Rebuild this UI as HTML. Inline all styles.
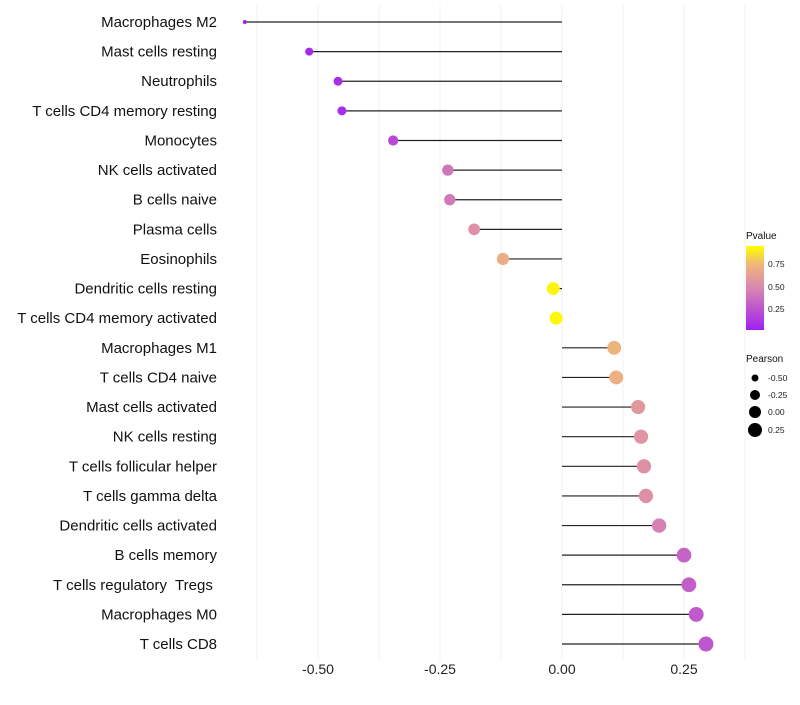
<!DOCTYPE html>
<html><head><meta charset="utf-8"><style>
body{margin:0;background:#fff;font-family:"Liberation Sans",sans-serif}
</style></head><body>
<svg id="c" width="800" height="700" xmlns="http://www.w3.org/2000/svg">
<defs><linearGradient id="pg" x1="0" y1="1" x2="0" y2="0">
<stop offset="0" stop-color="#A020F0"/><stop offset="0.5" stop-color="#D987B0"/><stop offset="0.78" stop-color="#EFB77A"/><stop offset="1" stop-color="#FFFF00"/></linearGradient></defs>
</svg>
<script>
const categories=["Macrophages M2","Mast cells resting","Neutrophils","T cells CD4 memory resting","Monocytes","NK cells activated","B cells naive","Plasma cells","Eosinophils","Dendritic cells resting","T cells CD4 memory activated","Macrophages M1","T cells CD4 naive","Mast cells activated","NK cells resting","T cells follicular helper","T cells gamma delta","Dendritic cells activated","B cells memory","T cells regulatory  Tregs ","Macrophages M0","T cells CD8"];
const pearson=[-0.650,-0.518,-0.459,-0.451,-0.346,-0.234,-0.230,-0.180,-0.121,-0.018,-0.012,0.107,0.111,0.156,0.162,0.168,0.172,0.199,0.250,0.260,0.275,0.295];
const pvalue=[0.01,0.04,0.07,0.07,0.2,0.42,0.43,0.55,0.72,0.97,0.98,0.76,0.74,0.6,0.57,0.56,0.55,0.47,0.33,0.3,0.28,0.26];
const xTicks=[-0.5,-0.25,0,0.25];
const xTickLabels=["-0.50","-0.25","0.00","0.25"];
const NS="http://www.w3.org/2000/svg";
const svg=document.getElementById('c');
const X=v=>562+v*488;
const Y=i=>22+i*29.62;
const R=v=>2+5.5*Math.sqrt(Math.max(0,(v+0.65)/0.945));
function lerp(a,b,t){return a.map((x,i)=>Math.round(x+(b[i]-x)*t));}
function col(p){const s=[[0,[160,32,240]],[0.5,[217,135,176]],[0.78,[239,183,122]],[1,[255,255,0]]];
for(let i=1;i<s.length;i++){if(p<=s[i][0]){const t=(p-s[i-1][0])/(s[i][0]-s[i-1][0]);const c=lerp(s[i-1][1],s[i][1],t);return `rgb(${c})`;}}return 'rgb(255,255,0)';}
function el(t,a,txt){const e=document.createElementNS(NS,t);for(const k in a)e.setAttribute(k,a[k]);if(txt!=null)e.textContent=txt;svg.appendChild(e);return e;}
for(let g=-0.625;g<=0.38;g+=0.125){const e=el('line',{x1:X(g),x2:X(g),y1:5,y2:660,stroke:'#f0f0f0','stroke-width':1});

}
xTicks.forEach((v,i)=>{const e=el('text',{x:X(v),y:674,'text-anchor':'middle','font-size':14,fill:'#222'},xTickLabels[i]);

});
categories.forEach((c,i)=>{
const t=el('text',{x:217,y:Y(i)+5,'text-anchor':'end','font-size':15,fill:'#111','xml:space':'preserve'},c);
t.setAttribute('style','white-space:pre');


const l=el('line',{x1:X(pearson[i]),x2:X(0),y1:Y(i),y2:Y(i),stroke:'#222','stroke-width':1.2});


const p=el('circle',{cx:X(pearson[i]),cy:Y(i),r:R(pearson[i]),fill:col(pvalue[i])});


});
let e=el('text',{x:746,y:239,'font-size':10,fill:'#111'},'Pvalue');


e=el('rect',{x:746,y:246,width:18,height:84,fill:'url(#pg)'});


[[0.75,264],[0.5,287],[0.25,309]].forEach(([v,y])=>{const t=el('text',{x:768,y:y+3,'font-size':8.5,fill:'#222'},v.toFixed(2));

});
e=el('text',{x:746,y:362,'font-size':10,fill:'#111'},'Pearson');


[[-0.5,378,3.5],[-0.25,395,5],[0,412,6],[0.25,430,7]].forEach(([v,y,r])=>{const c=el('circle',{cx:755,cy:y,r:r,fill:'#000'});


const t=el('text',{x:768,y:y+3,'font-size':8.5,fill:'#222'},v.toFixed(2));

});
</script>
</body></html>
